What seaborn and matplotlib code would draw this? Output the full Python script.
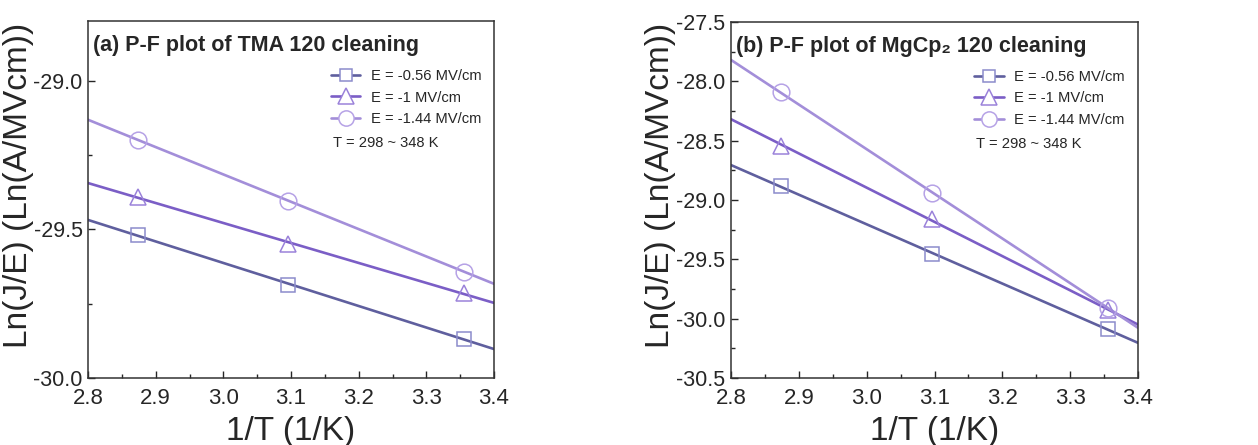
import numpy as np
import pandas as pd
import matplotlib
matplotlib.use("Agg")
import matplotlib.pyplot as plt
from matplotlib.lines import Line2D
from matplotlib.ticker import MultipleLocator
import seaborn as sns

# ---- data ----
inv_T = [2.874, 3.096, 3.356]  # 1/T (1/K), x1000
labels = ["E = -0.56 MV/cm", "E = -1 MV/cm", "E = -1.44 MV/cm"]

tma_056 = [-29.520, -29.687, -29.869]
tma_100 = [-29.392, -29.548, -29.716]
tma_144 = [-29.200, -29.404, -29.643]

mg_056 = [-28.886, -29.453, -30.090]
mg_100 = [-28.541, -29.158, -29.930]
mg_144 = [-28.093, -28.943, -29.907]

titles = ["(a) P-F plot of TMA 120 cleaning", "(b) P-F plot of MgCp\u2082 120 cleaning"]
xlabel = "1/T (1/K)"
ylabel = "Ln(J/E) (Ln(A/MVcm))"
note = "T = 298 ~ 348 K"

# ---- style ----
sns.set_style("ticks")
plt.rcParams['font.family'] = ['Liberation Sans', 'DejaVu Sans']

line_colors = ["#5F5F9E", "#7B5EC6", "#A38ED9"]
marker_edges = ["#8C8CCB", "#9B82DA", "#B6A2E6"]
markers = ["s", "^", "o"]
msizes = [10, 12, 12]

fig = plt.figure(figsize=(12.58, 4.45), dpi=100)
axA = fig.add_axes([0.0700, 0.1506, 0.3227, 0.8022])
axB = fig.add_axes([0.5811, 0.1506, 0.3235, 0.8000])

panels = [
    (axA, [tma_056, tma_100, tma_144], (-30.0, -28.8), [-30.0, -29.5, -29.0]),
    (axB, [mg_056, mg_100, mg_144], (-30.5, -27.5), list(np.arange(-30.5, -27.49, 0.5))),
]
xt = [2.8, 2.9, 3.0, 3.1, 3.2, 3.3, 3.4]
ylab_x = [-0.132, -0.136]

for i, (ax, series, ylim, yticks) in enumerate(panels):
    ax.set_xlim(2.8, 3.4)
    ax.set_ylim(*ylim)
    for j, ys in enumerate(series):
        df = pd.DataFrame({"x": inv_T, "y": ys})
        sns.regplot(data=df, x="x", y="y", ax=ax, scatter=False, ci=None,
                    truncate=False, color=line_colors[j],
                    line_kws=dict(lw=1.9, zorder=2))
        ax.plot(df["x"], df["y"], linestyle="none", marker=markers[j],
                markersize=msizes[j], markerfacecolor="none",
                markeredgecolor=marker_edges[j], markeredgewidth=1.1, zorder=3)
    ax.set_xlim(2.8, 3.4)
    ax.set_ylim(*ylim)
    ax.set_xticks(xt)
    ax.xaxis.set_minor_locator(MultipleLocator(0.05))
    ax.set_yticks(yticks)
    ax.yaxis.set_minor_locator(MultipleLocator(0.25))
    ax.set_xticklabels([f"{v:.1f}" for v in xt])
    ax.set_yticklabels([f"{v:.1f}" for v in yticks])
    ax.tick_params(axis="x", which="major", pad=7, labelsize=16)
    ax.tick_params(axis="y", which="major", pad=4, labelsize=15.5)
    ax.tick_params(axis="both", which="major", direction="in", length=5, width=1.0,
                   top=False, right=False)
    ax.tick_params(axis="both", which="minor", direction="in", length=3, width=1.0,
                   top=False, right=False)
    for sp in ax.spines.values():
        sp.set_visible(True)
        sp.set_color("#333333")
        sp.set_linewidth(1.1)
    ax.set_xlabel(xlabel, fontsize=24)
    ax.set_ylabel(ylabel, fontsize=24)
    ax.xaxis.set_label_coords(0.5, -0.106)
    ax.yaxis.set_label_coords(ylab_x[i], 0.54)
    ax.text(0.012, 0.93, titles[i], transform=ax.transAxes, fontsize=15.5,
            fontweight="bold", ha="left", va="center")

    handles = [Line2D([], [], color=line_colors[k], lw=1.9, marker=markers[k],
                      markersize=msizes[k] - 1, markerfacecolor="white",
                      markeredgecolor=marker_edges[k], markeredgewidth=1.1)
               for k in range(3)]
    ax.legend(handles, labels, loc="upper left", bbox_to_anchor=(0.598, 0.865),
              frameon=False, fontsize=10.6, handlelength=2.0, handletextpad=0.7,
              labelspacing=0.5, borderpad=0, borderaxespad=0)
    ax.text(0.603, 0.658, note, transform=ax.transAxes, fontsize=10.6,
            ha="left", va="center")

fig.savefig("out.png", dpi=100)
